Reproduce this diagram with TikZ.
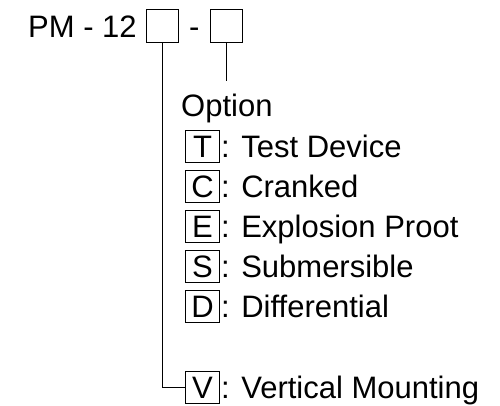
\documentclass[tikz,border=0pt]{standalone}
\usepackage{fontspec}
\setmainfont{Liberation Sans}
\usetikzlibrary{positioning}

\begin{document}
\begin{tikzpicture}[
		x=1pt, y=-1pt,
		every node/.style={font=\fontsize{31}{37}\selectfont, inner sep=0pt},
		code/.style={draw, rectangle, minimum width=32pt, minimum height=33pt, text height=22pt, text depth=0pt, line width=1pt},
		key/.style={draw, rectangle, minimum width=34pt, minimum height=32pt, text height=22pt, text depth=0pt, line width=1pt},
		desc/.style={anchor=base west},
		wire/.style={line width=1pt}
		]
		\useasboundingbox (0,0) rectangle (500,405);
		
		% --- Top row: type code ---
		\node[anchor=base west] (pm) at (28,37) {PM - 12};
		\node[code, right=9pt of pm] (mount) {};
		\node[anchor=base west] (dash) at ([xshift=10pt]mount.east |- pm.base) {-};
		\node[code, anchor=west] (opt) at ([xshift=10pt]dash.east |- mount) {};
		
		% --- Option list ---
		\node[anchor=base west] (option) at (181,116) {Option};
		\node[key, anchor=north west] (kT) at (185,130) {T};
		\node[key, below=7pt of kT] (kC) {C};
		\node[key, below=7pt of kC] (kE) {E};
		\node[key, below=7pt of kE] (kS) {S};
		\node[key, below=7pt of kS] (kD) {D};
		\node[key, below=48pt of kD] (kV) {V};
		
		\node[desc] (dT) at ([xshift=1pt]kT.base east) {: Test Device};
		\node[desc] (dC) at ([xshift=1pt]kC.base east) {: Cranked};
		\node[desc] (dE) at ([xshift=1pt]kE.base east) {: Explosion Proot};
		\node[desc] (dS) at ([xshift=1pt]kS.base east) {: Submersible};
		\node[desc] (dD) at ([xshift=1pt]kD.base east) {: Differential};
		\node[desc] (dV) at ([xshift=1pt]kV.base east) {: Vertical Mounting};
		
		% --- Leader lines ---
		\draw[wire] (mount.south) |- (kV.west);
		\draw[wire, shorten >=12pt] (opt.south) -- (opt.south |- option.north);
	\end{tikzpicture}
\end{document}
